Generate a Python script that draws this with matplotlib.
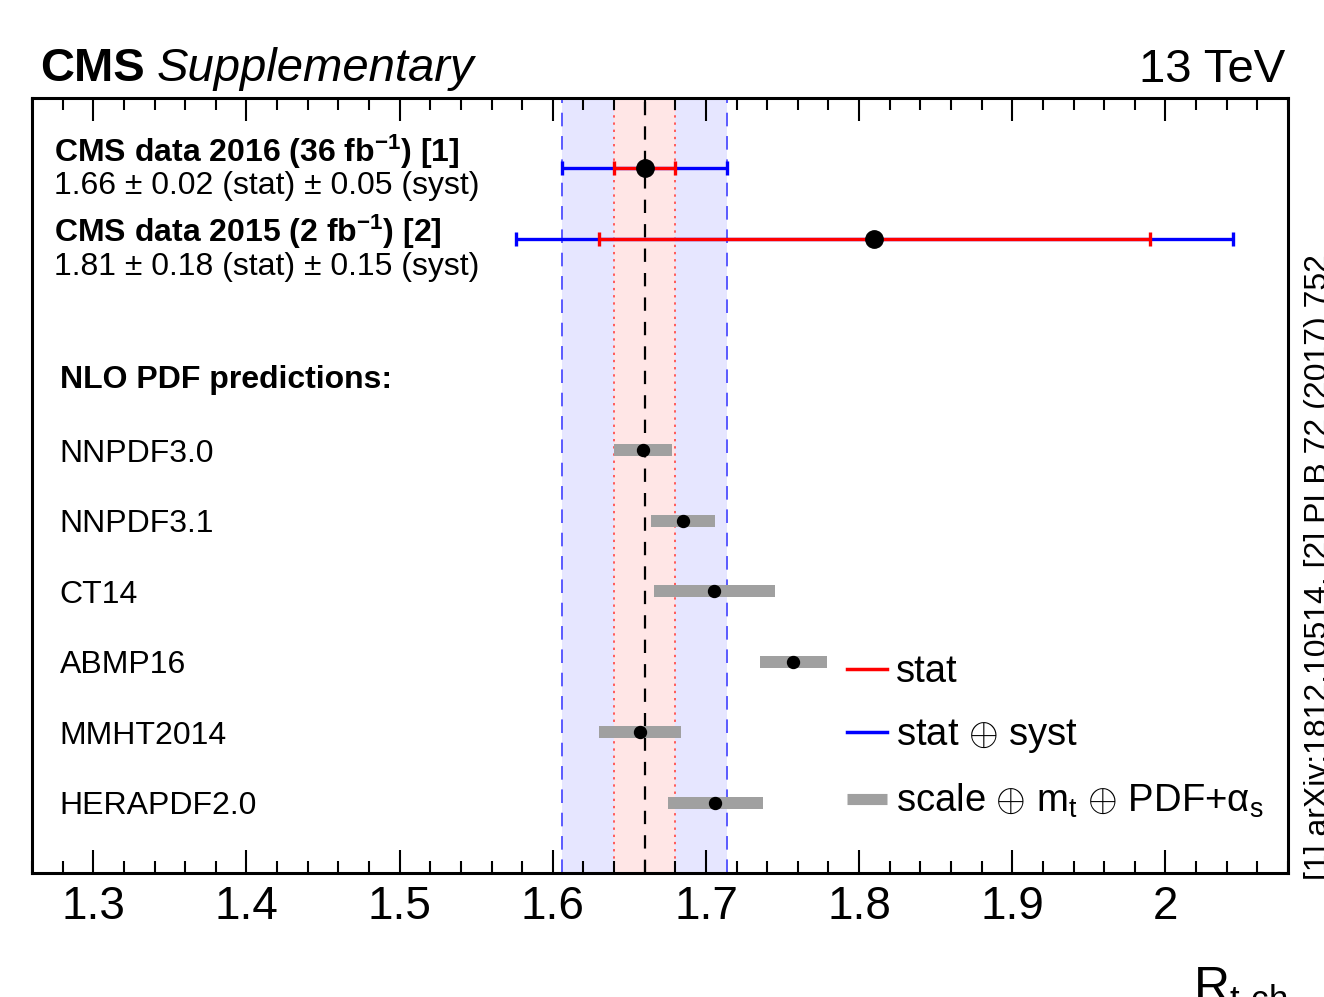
import numpy as np
import matplotlib
matplotlib.use("Agg")
import matplotlib.pyplot as plt
from matplotlib.ticker import MultipleLocator, FuncFormatter
from matplotlib.lines import Line2D
from matplotlib.transforms import blended_transform_factory

plt.rcParams['font.family'] = ['Liberation Sans', 'DejaVu Sans']
plt.rcParams['mathtext.fontset'] = 'custom'
plt.rcParams['mathtext.rm'] = 'Liberation Sans'
plt.rcParams['mathtext.it'] = 'Liberation Sans:italic'
plt.rcParams['mathtext.bf'] = 'Liberation Sans:bold'

# measurements
meas_titles = [r"CMS data 2016 (36 fb$^{\mathbf{-1}}$) [1]",
               r"CMS data 2015 (2 fb$^{\mathbf{-1}}$) [2]"]
meas_value = [1.66, 1.81]
meas_stat = [0.02, 0.18]
meas_syst = [0.05, 0.15]
meas_rows = [0, 1]

# NLO predictions
pred_names = ["NNPDF3.0", "NNPDF3.1", "CT14", "ABMP16", "MMHT2014", "HERAPDF2.0"]
pred_value = [1.659, 1.685, 1.705, 1.757, 1.657, 1.706]
pred_low = [1.640, 1.664, 1.666, 1.735, 1.630, 1.675]
pred_high = [1.678, 1.706, 1.745, 1.779, 1.684, 1.737]
pred_rows = [4, 5, 6, 7, 8, 9]
header_row = 3

meas_value = np.array(meas_value)
meas_stat = np.array(meas_stat)
meas_syst = np.array(meas_syst)
meas_tot = np.sqrt(meas_stat**2 + meas_syst**2)

fig = plt.figure(figsize=(13.24, 9.97), dpi=100)
ax = fig.add_axes([0.0242, 0.1244, 0.9486, 0.7773])
ax.set_xlim(1.26, 2.08)
ax.set_ylim(10, -1)

# bands of the 2016 result
c0, s0, t0 = meas_value[0], meas_stat[0], meas_tot[0]
ax.axvspan(c0 - t0, c0 + t0, color=(0.9, 0.9, 1.0), lw=0, zorder=0)
ax.axvspan(c0 - s0, c0 + s0, color=(1.0, 0.9, 0.9), lw=0, zorder=0.5)
for xv in (c0 - t0, c0 + t0):
    ax.axvline(xv, color='#5a5aff', lw=1.4, dashes=(7, 5), zorder=1)
for xv in (c0 - s0, c0 + s0):
    ax.axvline(xv, color='#ff5a5a', lw=1.4, dashes=(1.2, 2.5), zorder=1)
ax.axvline(c0, color='black', lw=1.6, dashes=(6, 5), zorder=1)

# measurements
ax.errorbar(meas_value, meas_rows, xerr=meas_tot, fmt='none', ecolor='blue',
            elinewidth=2.4, capsize=5, capthick=2.4, zorder=3)
ax.errorbar(meas_value, meas_rows, xerr=meas_stat, fmt='none', ecolor='red',
            elinewidth=2.4, capsize=5, capthick=2.4, zorder=4)
ax.plot(meas_value, meas_rows, 'o', color='black', ms=12.5, zorder=5)

# predictions
pred_low = np.array(pred_low)
pred_high = np.array(pred_high)
ax.barh(pred_rows, pred_high - pred_low, left=pred_low, height=0.17,
        color='#a0a0a0', zorder=3)
ax.plot(pred_value, pred_rows, 'o', color='black', ms=8.6, zorder=5)

# row texts
tr = blended_transform_factory(ax.transAxes, ax.transData)
title_off = [-0.23, -0.10]
value_off = [0.25, 0.40]
for i, (row, title) in enumerate(zip(meas_rows, meas_titles)):
    ax.text(0.0175, row + title_off[i], title, transform=tr, fontsize=23,
            fontweight='bold', va='center', ha='left')
    ax.text(0.0175, row + value_off[i],
            f"{meas_value[i]:.2f} \u00b1 {meas_stat[i]:.2f} (stat) \u00b1 {meas_syst[i]:.2f} (syst)",
            transform=tr, fontsize=23, va='center', ha='left')
ax.text(0.022, header_row, "NLO PDF predictions:", transform=tr, fontsize=23,
        fontweight='bold', va='center', ha='left')
for row, name in zip(pred_rows, pred_names):
    ax.text(0.022, row + 0.05, name, transform=tr, fontsize=23, va='center', ha='left')

# legend
handles = [Line2D([], [], color='red', lw=2.5),
           Line2D([], [], color='blue', lw=2.5),
           Line2D([], [], color='#a0a0a0', lw=8, solid_capstyle='butt')]
labels = ["stat", r"stat $\oplus$ syst",
          r"scale $\oplus$ m$_{\mathrm{t}}$ $\oplus$ PDF+$\mathrm{\alpha}_{\mathrm{s}}$"]
ax.legend(handles, labels, loc='upper left', bbox_to_anchor=(0.649, 0.282),
          frameon=False, fontsize=27.5, handlelength=1.05, handletextpad=0.24,
          borderpad=0, borderaxespad=0, labelspacing=0.7)

# axes style
for sp in ax.spines.values():
    sp.set_linewidth(2.2)
ax.xaxis.set_major_locator(MultipleLocator(0.1))
ax.xaxis.set_minor_locator(MultipleLocator(0.02))
ax.xaxis.set_major_formatter(FuncFormatter(lambda v, p: f"{v:g}"))
ax.tick_params(axis='x', which='major', direction='in', top=True, length=16.5,
               width=1.5, labelsize=33, pad=9)
ax.tick_params(axis='x', which='minor', direction='in', top=True, length=8.6, width=1.5)
ax.set_yticks([])
ax.set_xlabel(r"R$_{\text{t-ch}}$", fontsize=36, loc='right', labelpad=26)

# header
fig.text(40 / 1324, 1 - 81 / 997, "CMS", fontsize=34, fontweight='bold',
         ha='left', va='baseline')
fig.text(157 / 1324, 1 - 81 / 997, "Supplementary", fontsize=34, style='italic',
         ha='left', va='baseline')
fig.text(1285 / 1324, 1 - 82 / 997, "13 TeV", fontsize=34, ha='right', va='baseline')
fig.text(1304 / 1324, 1 - 880 / 997, "[1] arXiv:1812.10514, [2] PLB 72 (2017) 752",
         fontsize=23, rotation=90, ha='left', va='bottom')

fig.savefig("out.png", dpi=100)
